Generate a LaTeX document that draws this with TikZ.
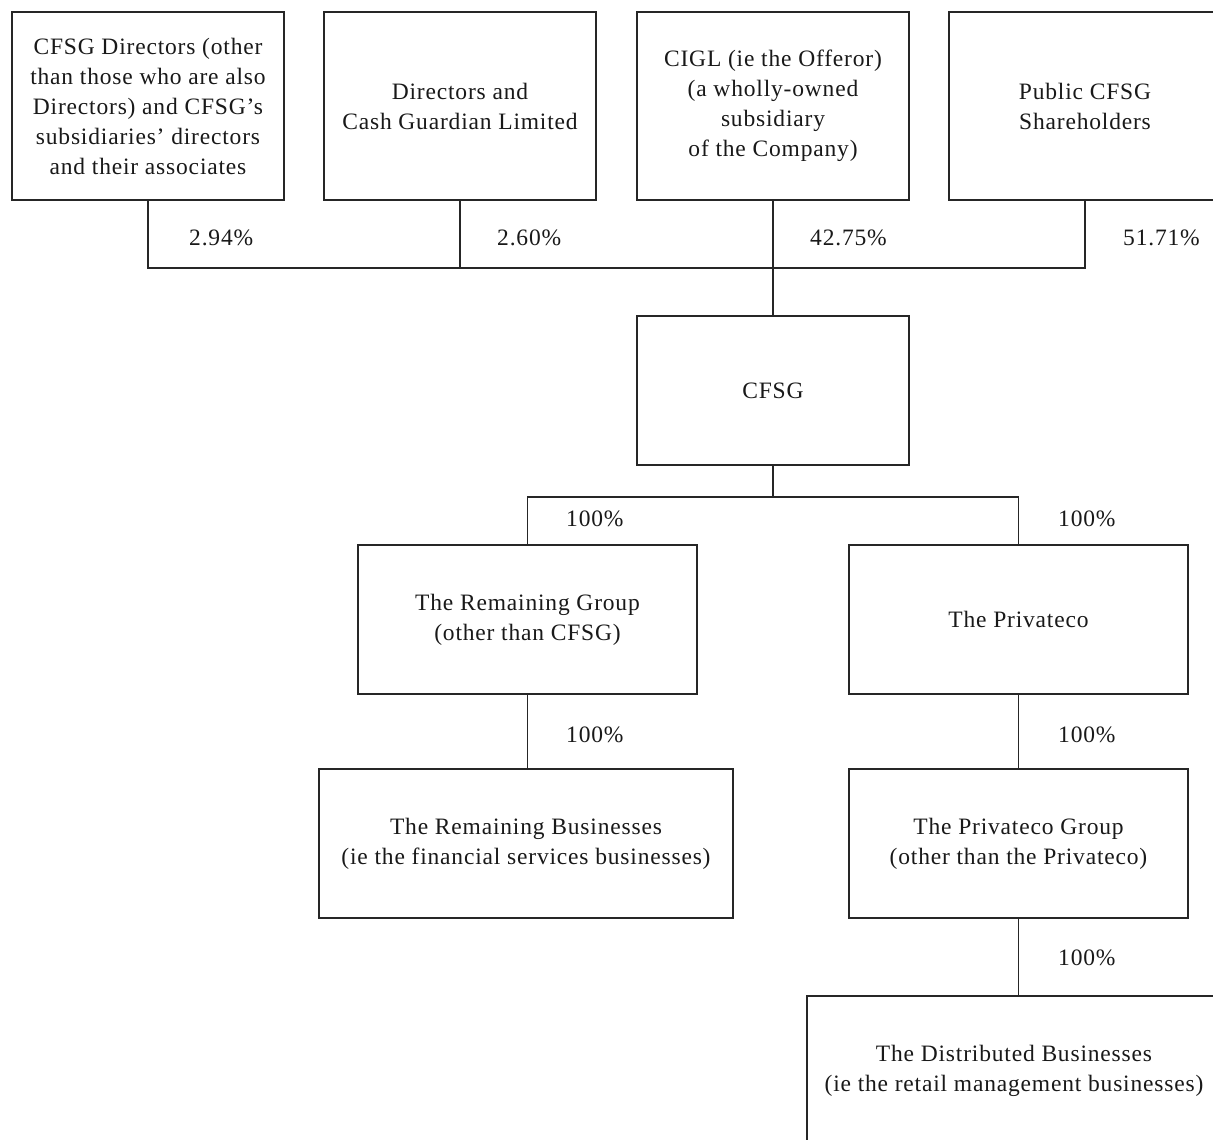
\documentclass[tikz,border=0pt]{standalone}
\usepackage{fontspec}
\setmainfont[LetterSpace=3.5]{Liberation Serif}
\begin{document}
\begin{tikzpicture}[x=1pt,y=-1pt,
  box/.style={draw=black!85, line width=1.1pt, inner sep=0pt, align=center,
     font=\fontsize{23.5}{30}\selectfont, text=black!90},
  topbox/.style={box, minimum width=272pt, minimum height=188pt},
  midbox/.style={box, minimum width=339pt, minimum height=149pt},
  widebox/.style={box, minimum width=414pt, minimum height=149pt},
  pct/.style={anchor=west, inner sep=0pt, font=\fontsize{23.5}{30}\selectfont, text=black!90},
  link/.style={draw=black!85, line width=1.1pt}]
\useasboundingbox (0,0) rectangle (1213,1140);
\clip (0,0) rectangle (1213,1140);
\fill[white] (0,0) rectangle (1213,1140);
% top row
\node[topbox] (d1) at (148,106) {CFSG Directors (other\\than those who are also\\Directors) and CFSG’s\\subsidiaries’ directors\\and their associates};
\node[topbox] (d2) at (460,106) {Directors and\\Cash Guardian Limited};
\node[topbox] (d3) at (773,106) {CIGL (ie the Offeror)\\(a wholly-owned\\subsidiary\\of the Company)};
\node[topbox] (d4) at (1085,106) {Public CFSG\\Shareholders};
\node[box, minimum width=272pt, minimum height=149pt] (cfsg) at (773,390.5) {CFSG};
\node[midbox] (rg) at (527.5,619.5) {The Remaining Group\\(other than CFSG)};
\node[midbox] (pc) at (1018.5,619.5) {The Privateco};
\node[widebox] (rb) at (526,843.5) {The Remaining Businesses\\(ie the financial services businesses)};
\node[midbox] (pg) at (1018.5,843.5) {The Privateco Group\\(other than the Privateco)};
\node[widebox] (db) at (1014,1070.5) {The Distributed Businesses\\(ie the retail management businesses)};
% buses
\coordinate (bus1) at (773,268);
\coordinate (bus2) at (773,497);
\draw[link] (d1.south) |- (d4.south |- bus1) -- (d4.south);
\draw[link] (d2.south) -- (d2.south |- bus1);
\draw[link] (d3.south) -- (cfsg.north);
\draw[link] (cfsg.south) -- (bus2);
\draw[link] (rg.north) |- (pc.north |- bus2) -- (pc.north);
\draw[link] (rg.south) -- (rg.south |- rb.north);
\draw[link] (pc.south) -- (pg.north);
\draw[link] (pg.south) -- (pg.south |- db.north);
% percentages
\node[pct] (p1) at (189,238) {2.94\%};
\node[pct] (p2) at (497,238) {2.60\%};
\node[pct] (p3) at (810,238) {42.75\%};
\node[pct] (p4) at (1123,238) {51.71\%};
\node[pct] (p5) at (566,519) {100\%};
\node[pct] (p6) at (1058,519) {100\%};
\node[pct] (p7) at (566,735) {100\%};
\node[pct] (p8) at (1058,735) {100\%};
\node[pct] (p9) at (1058,958) {100\%};
\end{tikzpicture}
\end{document}
